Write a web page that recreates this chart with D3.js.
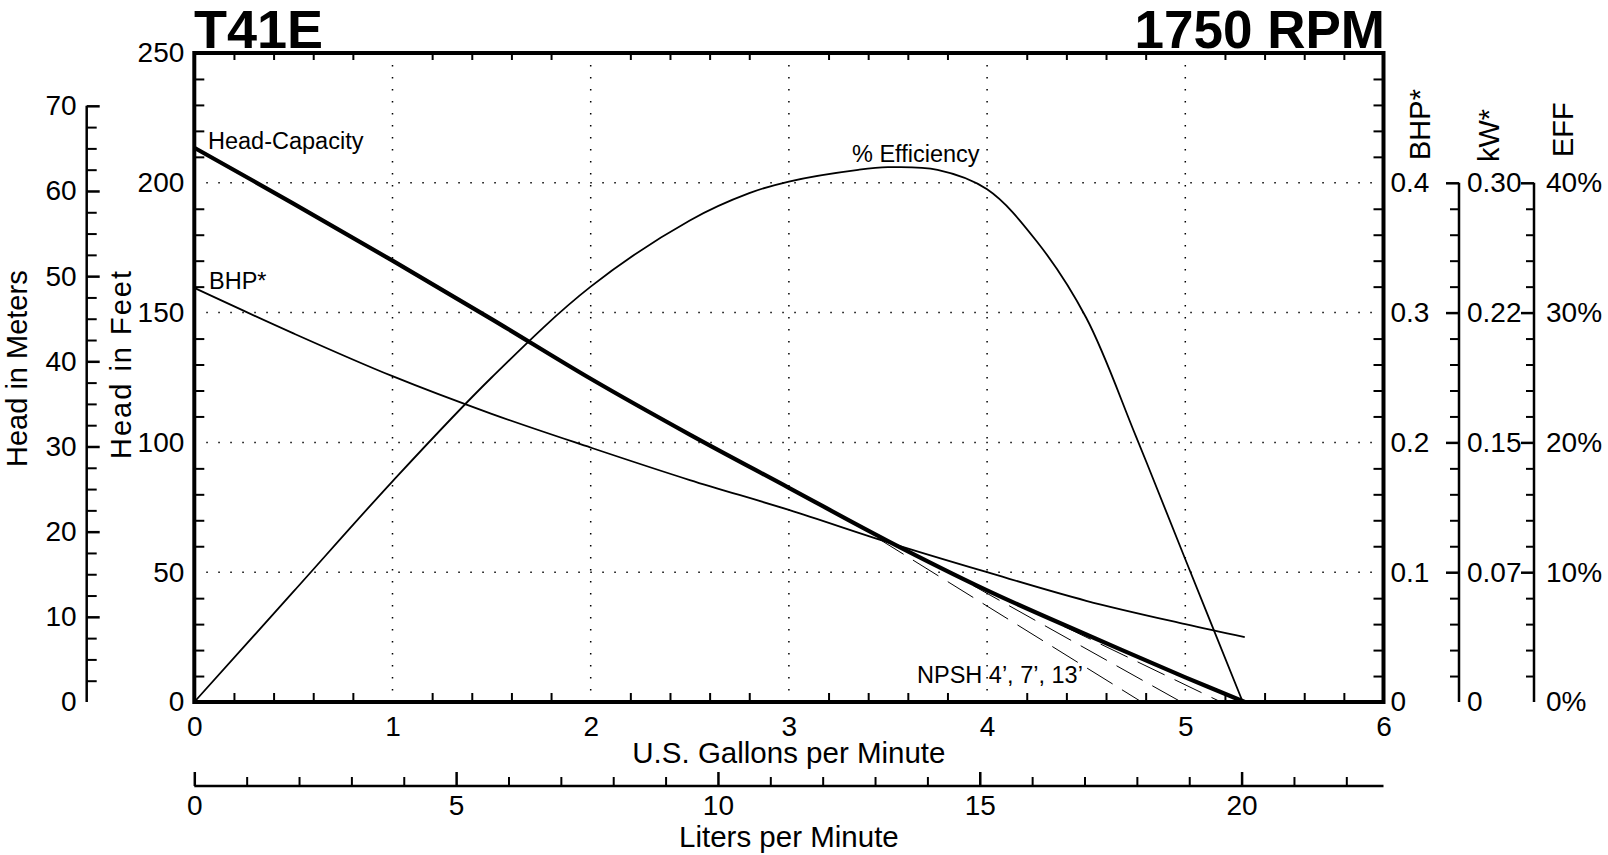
<!DOCTYPE html>
<html>
<head>
<meta charset="UTF-8">
<title>T41E 1750 RPM</title>
<script src="https://cdn.jsdelivr.net/npm/d3@7"></script>
<style>
  * { margin: 0; padding: 0; }
  body { background: #fff; width: 1608px; height: 855px; overflow: hidden; }
  svg { display: block; }
  text { font-family: "Liberation Sans", Arial, Helvetica, sans-serif; fill: #000; }
  .axis path, .axis line { stroke: #000; }
</style>
</head>
<body>
<svg id="chart" width="1608" height="855"></svg>
<script>
// tick labels
const gpmTicks = [0, 1, 2, 3, 4, 5, 6];
const feetTicks = [0, 50, 100, 150, 200, 250];
const meterTicks = [0, 10, 20, 30, 40, 50, 60, 70];
const bhpTicks = [0, 0.1, 0.2, 0.3, 0.4];
const kwLabels = ['0', '0.07', '0.15', '0.22', '0.30'];
const effTicks = [0, 10, 20, 30, 40];
const lpmTicks = [0, 5, 10, 15, 20];

// head-capacity (gpm -> feet)
const headGpm = [0, 0.5, 1, 1.5, 2, 2.5, 3, 3.5, 4, 4.5, 5, 5.3];
const headFt = [213.5, 192, 170, 147.5, 124.5, 103, 82.5, 62, 43, 26, 9.5, 0];

// brake horsepower (gpm -> hp)
const bhpGpm = [0, 0.5, 1, 1.5, 2, 2.5, 3, 3.5, 4, 4.5, 5, 5.3];
const bhpHp = [0.319, 0.284, 0.251, 0.222, 0.196, 0.171, 0.148, 0.123, 0.100, 0.078, 0.060, 0.050];

// efficiency (gpm -> %)
const effGpm = [0, 0.5, 1, 1.5, 2, 2.5, 2.8, 3, 3.35, 3.5, 3.75, 4, 4.25, 4.5, 4.75, 5, 5.29];
const effPct = [0, 8.5, 17, 25, 32, 37.1, 39.2, 40.1, 41, 41.2, 41, 39.5, 35.5, 29.6, 20.5, 11, 0];

// NPSH cut-off lines (gpm, feet)
const npshGpm = [[3.45, 4.78], [3.75, 4.98], [4.2, 5.18]];
const npshFt = [[63, 0], [52.5, 0], [36, 0]];

const svg = d3.select('#chart');
const X0 = 194.3, X1 = 1383.5, Y0 = 702, Y1 = 53;

const x = d3.scaleLinear().domain([0, 6]).range([X0, X1]);
const lpm = d3.scaleLinear().domain([0, 6 * 3.785]).range([X0, X1]);
const yFt = d3.scaleLinear().domain([0, 250]).range([Y0, Y1]);
const yM = d3.scaleLinear().domain([0, 250 * 0.3048]).range([Y0, Y1]);
const yBhp = d3.scaleLinear().domain([0, 0.5]).range([Y0, Y1]);
const yEff = d3.scaleLinear().domain([0, 50]).range([Y0, Y1]);

const near = (v, arr) => arr.some(a => Math.abs(a - v) < 1e-6);
const gpmMinor = d3.range(1, 30).map(i => i * 0.2).filter(v => !near(v, gpmTicks));
const ftMinor = d3.range(1, 25).map(i => i * 10).filter(v => !near(v, feetTicks));
const hpMinor = ftMinor.map(v => v / 500);

function style(g, fs, sw) {
  g.attr('class', 'axis');
  g.selectAll('text').attr('font-size', fs);
  g.selectAll('line').attr('stroke-width', sw);
  g.select('.domain').remove();
  g.attr('font-family', null);
}

// grid
const grid = svg.append('g');
grid.selectAll('line.v').data(gpmTicks.slice(1, -1)).join('line')
  .attr('x1', d => x(d)).attr('x2', d => x(d)).attr('y1', Y1).attr('y2', Y0)
  .attr('stroke', '#000').attr('stroke-width', 1.5).attr('stroke-dasharray', '1.5 10.5');
grid.selectAll('line.h').data(feetTicks.slice(1, -1)).join('line')
  .attr('x1', X0).attr('x2', X1).attr('y1', d => yFt(d)).attr('y2', d => yFt(d))
  .attr('stroke', '#000').attr('stroke-width', 1.5).attr('stroke-dasharray', '1.5 10.5');

// frame minor ticks
svg.append('g').attr('transform', `translate(0,${Y1})`)
  .call(d3.axisBottom(x).tickValues(gpmMinor).tickSize(7).tickFormat(''))
  .call(g => style(g, 0, 2));
svg.append('g').attr('transform', `translate(0,${Y0})`)
  .call(d3.axisTop(x).tickValues(gpmMinor).tickSize(9).tickFormat(''))
  .call(g => style(g, 0, 2));
svg.append('g').attr('transform', `translate(${X0},0)`)
  .call(d3.axisRight(yFt).tickValues(ftMinor).tickSize(10).tickFormat(''))
  .call(g => style(g, 0, 2));
svg.append('g').attr('transform', `translate(${X1},0)`)
  .call(d3.axisLeft(yFt).tickValues(ftMinor).tickSize(10).tickFormat(''))
  .call(g => style(g, 0, 2));

// labels: gpm, feet, bhp
svg.append('g').attr('transform', `translate(0,${Y0})`)
  .call(d3.axisBottom(x).tickValues(gpmTicks).tickSize(0).tickPadding(14).tickFormat(d3.format('d')))
  .call(g => style(g, 28, 0));
svg.append('g').attr('transform', `translate(${X0},0)`)
  .call(d3.axisLeft(yFt).tickValues(feetTicks).tickSize(0).tickPadding(10).tickFormat(d3.format('d')))
  .call(g => style(g, 28, 0));
svg.append('g').attr('transform', `translate(${X1},0)`)
  .call(d3.axisRight(yBhp).tickValues(bhpTicks).tickSize(0).tickPadding(7).tickFormat(d => d === 0 ? '0' : d3.format('.1f')(d)))
  .call(g => style(g, 28, 0));

// frame
svg.append('rect').attr('x', X0).attr('y', Y1).attr('width', X1 - X0).attr('height', Y0 - Y1)
  .attr('fill', 'none').attr('stroke', '#000').attr('stroke-width', 4);

// meters axis
const MX = 86.7;
svg.append('line').attr('x1', MX).attr('x2', MX).attr('y1', yM(0)).attr('y2', yM(70))
  .attr('stroke', '#000').attr('stroke-width', 2.5);
svg.append('g').attr('transform', `translate(${MX},0)`)
  .call(d3.axisLeft(yM).tickValues(d3.range(1, 29).map(i => i * 2.5).filter(v => v % 10 !== 0))
    .tickSizeInner(-10).tickSizeOuter(0).tickFormat(''))
  .call(g => style(g, 0, 2));
svg.append('g').attr('transform', `translate(${MX},0)`)
  .call(d3.axisLeft(yM).tickValues(meterTicks).tickSizeInner(-13).tickSizeOuter(0).tickPadding(10))
  .call(g => style(g, 28, 2.5))
  .call(g => g.selectAll('.tick').filter(d => d === 0).select('line').remove());

// kW axis
const KX = 1459;
svg.append('line').attr('x1', KX).attr('x2', KX).attr('y1', yBhp(0)).attr('y2', yBhp(0.4))
  .attr('stroke', '#000').attr('stroke-width', 2.5);
svg.append('g').attr('transform', `translate(${KX},0)`)
  .call(d3.axisLeft(yBhp).tickValues(hpMinor.filter(v => v < 0.41)).tickSize(9).tickFormat(''))
  .call(g => style(g, 0, 2));
svg.append('g').attr('transform', `translate(${KX},0)`)
  .call(d3.axisRight(yBhp).tickValues(bhpTicks).tickSizeInner(-13).tickSizeOuter(0).tickPadding(8)
    .tickFormat((d, i) => kwLabels[i]))
  .call(g => style(g, 28, 2.5))
  .call(g => g.selectAll('.tick').filter(d => d === 0).select('line').remove());

// efficiency axis
const EX = 1534;
svg.append('line').attr('x1', EX).attr('x2', EX).attr('y1', yEff(0)).attr('y2', yEff(40))
  .attr('stroke', '#000').attr('stroke-width', 2.5);
svg.append('g').attr('transform', `translate(${EX},0)`)
  .call(d3.axisLeft(yEff).tickValues(d3.range(1, 20).map(i => i * 2).filter(v => v % 10 !== 0)).tickSize(8).tickFormat(''))
  .call(g => style(g, 0, 2));
svg.append('g').attr('transform', `translate(${EX},0)`)
  .call(d3.axisRight(yEff).tickValues(effTicks).tickSizeInner(-13).tickSizeOuter(0).tickPadding(12)
    .tickFormat(d => d + '%'))
  .call(g => style(g, 28, 2.5))
  .call(g => g.selectAll('.tick').filter(d => d === 0).select('line').remove());

// liters axis
const LY = 786;
svg.append('g').attr('transform', `translate(0,${LY})`)
  .call(d3.axisBottom(lpm).tickValues(d3.range(1, 23).filter(v => v % 5 !== 0)).tickSizeInner(-9).tickSizeOuter(0).tickFormat(''))
  .call(g => style(g, 0, 2));
svg.append('g').attr('transform', `translate(0,${LY})`)
  .call(d3.axisBottom(lpm).tickValues(lpmTicks).tickSizeInner(-14).tickSizeOuter(0).tickPadding(9))
  .call(g => style(g, 28, 2.5));
svg.append('line').attr('x1', lpm(0)).attr('x2', lpm(6 * 3.785)).attr('y1', LY).attr('y2', LY)
  .attr('stroke', '#000').attr('stroke-width', 2.5);

// curves
const plot = svg.append('g');
const smooth = d3.curveCatmullRom.alpha(0.5);
const lineFt = d3.line().x(d => x(d[0])).y(d => yFt(d[1])).curve(smooth);
const lineHp = d3.line().x(d => x(d[0])).y(d => yBhp(d[1])).curve(smooth);
const lineEff = d3.line().x(d => x(d[0])).y(d => yEff(d[1])).curve(smooth);

npshGpm.forEach((g, i) => {
  plot.append('path').attr('d', d3.line().x(d => x(d[0])).y(d => yFt(d[1]))(g.map((v, j) => [v, npshFt[i][j]])))
    .attr('fill', 'none').attr('stroke', '#000').attr('stroke-width', 1).attr('stroke-dasharray', '30 11');
});
plot.append('path').attr('d', lineEff(effGpm.map((v, i) => [v, effPct[i]])))
  .attr('fill', 'none').attr('stroke', '#000').attr('stroke-width', 1.8);
plot.append('path').attr('d', lineHp(bhpGpm.map((v, i) => [v, bhpHp[i]])))
  .attr('fill', 'none').attr('stroke', '#000').attr('stroke-width', 1.8);
plot.append('path').attr('d', lineFt(headGpm.map((v, i) => [v, headFt[i]])))
  .attr('fill', 'none').attr('stroke', '#000').attr('stroke-width', 4.2);

// annotations
const note = (t, px, py) => svg.append('text').attr('x', px).attr('y', py).attr('font-size', 23.5).text(t);
note('Head-Capacity', 208, 149);
note('BHP*', 209, 289);
note('% Efficiency', 852, 162);
note('NPSH 4\u2019, 7\u2019, 13\u2019', 917, 683);

// titles
svg.append('text').attr('x', 194).attr('y', 48).attr('font-size', 54).attr('font-weight', 'bold').text('T41E');
svg.append('text').attr('x', 1385).attr('y', 48).attr('font-size', 53).attr('font-weight', 'bold')
  .attr('text-anchor', 'end').text('1750 RPM');

svg.append('text').attr('x', (X0 + X1) / 2).attr('y', 763).attr('font-size', 29.5)
  .attr('text-anchor', 'middle').text('U.S. Gallons per Minute');
svg.append('text').attr('x', (X0 + X1) / 2).attr('y', 847).attr('font-size', 29.5)
  .attr('text-anchor', 'middle').text('Liters per Minute');

const vtitle = (t, px, py) => svg.append('text').attr('transform', `translate(${px},${py}) rotate(-90)`)
  .attr('font-size', 29).text(t);
vtitle('Head in Meters', 27, 467);
vtitle('Head in Feet', 131, 459).attr('letter-spacing', 2);
vtitle('BHP*', 1430, 160);
vtitle('kW*', 1499, 162);
vtitle('EFF', 1573, 157);
</script>
</body>
</html>
